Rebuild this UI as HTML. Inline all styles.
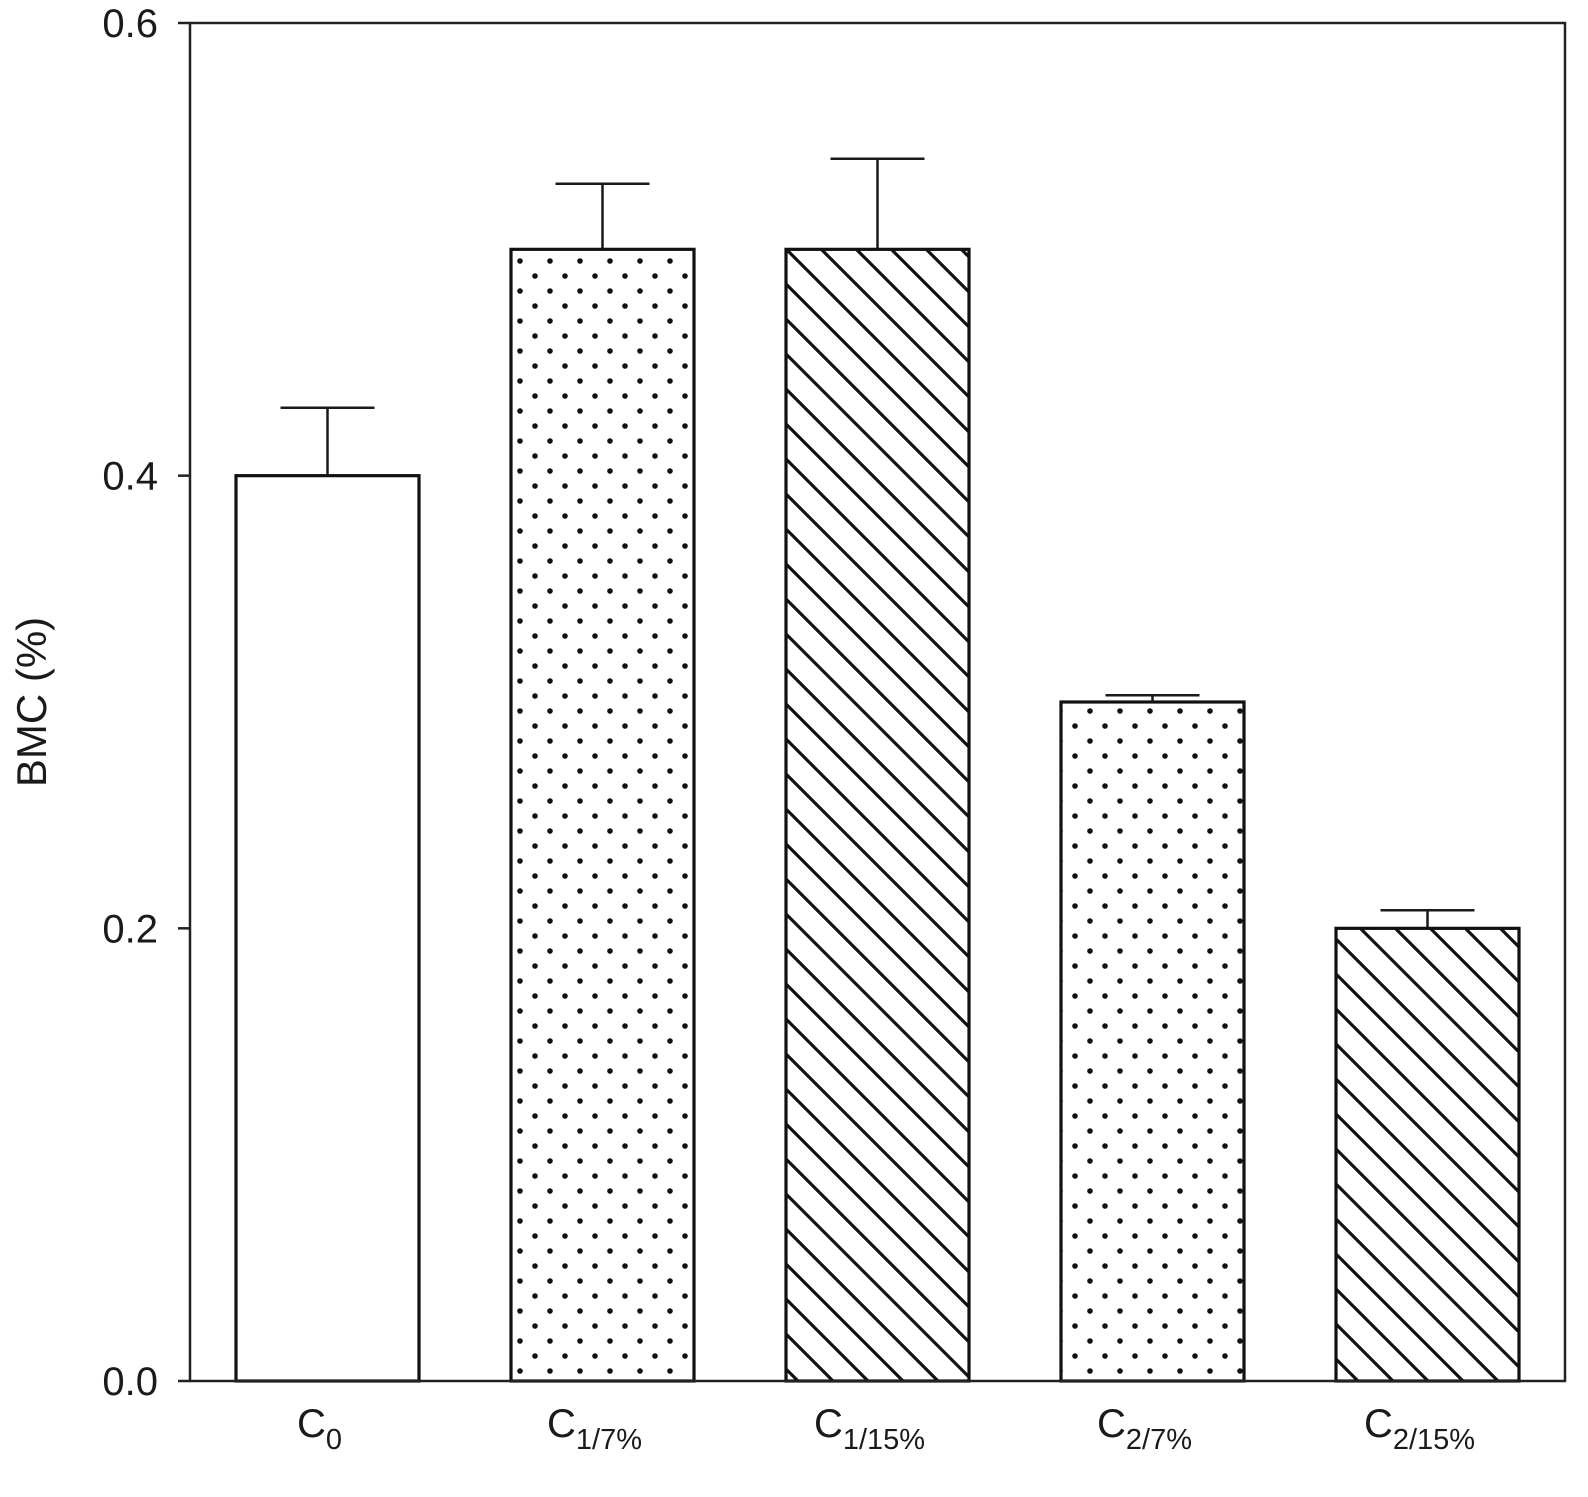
<!DOCTYPE html>
<html><head><meta charset="utf-8"><style>body{margin:0;background:#fff}svg{display:block}text{font-family:"Liberation Sans",sans-serif;fill:#1a1a1a}</style></head>
<body>
<svg id="chart" width="1588" height="1497" viewBox="0 0 1588 1497">
<defs>
<pattern id="dots" patternUnits="userSpaceOnUse" width="30" height="30" x="512" y="249">
<circle cx="8" cy="12" r="2.8" fill="#111"/><circle cx="23" cy="27" r="2.8" fill="#111"/>
</pattern>
<pattern id="hatch" patternUnits="userSpaceOnUse" width="35" height="35" patternTransform="translate(786,249)">
<path d="M-5,-5 L40,40 M-40,-5 L5,40 M30,-5 L75,40" stroke="#111" stroke-width="3.2"/>
</pattern>
</defs>
<g id="plot"></g>
</svg>
<script>
const categories = ["C0","C1/7%","C1/15%","C2/7%","C2/15%"];
const values = [0.40, 0.50, 0.50, 0.30, 0.20];
const errors = [0.030, 0.029, 0.040, 0.003, 0.008];
const fills = ["#fff","url(#dots)","url(#hatch)","url(#dots)","url(#hatch)"];
const yTicks = [0.0, 0.2, 0.4, 0.6];
const yTickLabels = ["0.0","0.2","0.4","0.6"];

const NS="http://www.w3.org/2000/svg";
const g=document.getElementById('plot');
const L=190,R=1565,T=23,B=1381;
const y=v=>B-(v/0.6)*(B-T);
const slot=(R-L)/categories.length;
const bw=183;
const x=i=>L+slot*(i+0.5);
function mk(t,a){const e=document.createElementNS(NS,t);for(const k in a)e.setAttribute(k,a[k]);g.appendChild(e);return e;}

categories.forEach((c,i)=>{
  const cx=x(i);
  const eb=mk('path',{d:`M${cx},${y(values[i])} V${y(values[i]+errors[i])} M${cx-47},${y(values[i]+errors[i])} H${cx+47}`,stroke:'#1a1a1a','stroke-width':2.5,fill:'none'});
  
  
  const r=mk('rect',{x:cx-bw/2,y:y(values[i]),width:bw,height:B-y(values[i]),fill:fills[i],stroke:'#111','stroke-width':3.2});
  
  
  const m=c.match(/^C(.*)$/);
  const t=mk('text',{x:cx-8,y:1437,'font-size':40,'text-anchor':'middle'});
  
  
  t.innerHTML=`C<tspan font-size="29" dy="12">${m[1]}</tspan>`;
});
const frame=mk('rect',{x:L,y:T,width:R-L,height:B-T,fill:'none',stroke:'#222','stroke-width':2.5});


yTicks.forEach((v,i)=>{
  const tk=mk('line',{x1:L-12,x2:L,y1:y(v),y2:y(v),stroke:'#222','stroke-width':2.5});
  
  
  const t=mk('text',{x:L-32,y:y(v)+14,'font-size':40,'text-anchor':'end'});
  t.textContent=yTickLabels[i];
  
  
});
const yt=mk('text',{x:0,y:0,'font-size':42,'text-anchor':'middle',transform:`translate(46,${(T+B)/2}) rotate(-90)`});
yt.textContent='BMC (%)';


</script>
</body></html>
